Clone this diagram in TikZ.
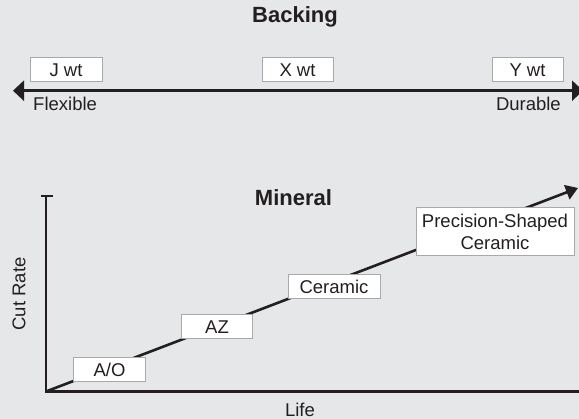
\documentclass[tikz,border=0pt]{standalone}
\usepackage{fontspec}
\setmainfont{Liberation Sans}
\usetikzlibrary{arrows.meta}
\definecolor{bgc}{HTML}{E6E7E8}
\definecolor{ink}{HTML}{231F20}
\definecolor{edge}{HTML}{A7A9AC}
\tikzset{
  lbl/.style={box text},
  box text/.style={text=ink, font=\fontsize{18.5}{22}\selectfont, inner sep=0pt},
  valbox/.style={box text, draw=edge, line width=1pt, fill=white, minimum height=24pt, align=center},
  ttl/.style={text=ink, font=\fontsize{22}{26}\selectfont\bfseries, inner sep=0pt},
  axisline/.style={draw=ink, line width=2.6pt},
  bigtip/.style={-{Triangle[length=11pt,width=20pt]}},
}
\begin{document}
\begin{tikzpicture}[x=1pt,y=-1pt]
\useasboundingbox (0,0) rectangle (579,419);
\fill[bgc] (0,0) rectangle (579,419);
\clip (0,0) rectangle (579,419);
% Backing
\node[ttl] (backing) at (295,17) {Backing};
\coordinate (bl) at (13,90.7);
\coordinate (br) at (583,90.7);
\draw[axisline, {Triangle[length=11pt,width=20pt]}-{Triangle[length=11pt,width=20pt]}] (bl) -- (br);
\node[valbox, minimum width=72pt] (j) at (66,70) {J wt};
\node[valbox, minimum width=71pt] (x) at (297.5,70) {X wt};
\node[valbox, minimum width=71pt] (y) at (527.5,70) {Y wt};
\node[lbl, anchor=west] (flex) at (33,104) {Flexible};
\node[lbl, anchor=east] (dur) at (561,104) {Durable};
% Mineral
\node[ttl] (mineral) at (293.5,198) {Mineral};
\coordinate (o) at (46,391.5);
\coordinate (ytop) at (46,196);
\coordinate (tl) at (40.5,196);
\coordinate (tr) at (53,196);
\coordinate (xend) at (580,391.5);
\coordinate (tip) at (578,188);
\draw[axisline] (tl) -- (tr);
\draw[axisline] (ytop) -- (o) -- (xend);
\draw[axisline, -{Triangle[length=12pt,width=15pt]}] (o) -- (tip);
\node[lbl, rotate=90] (cut) at (19,294) {Cut Rate};
\node[lbl] (life) at (300,410) {Life};
\node[valbox, minimum width=72pt] (ao) at (109.5,370) {A/O};
\node[valbox, minimum width=71.5pt] (az) at (217,327) {AZ};
\node[valbox, minimum width=92pt] (cer) at (334,287) {Ceramic};
\node[valbox, minimum width=158pt, minimum height=48pt] (psc) at (495,232) {Precision-Shaped\\Ceramic};
\end{tikzpicture}
\end{document}
